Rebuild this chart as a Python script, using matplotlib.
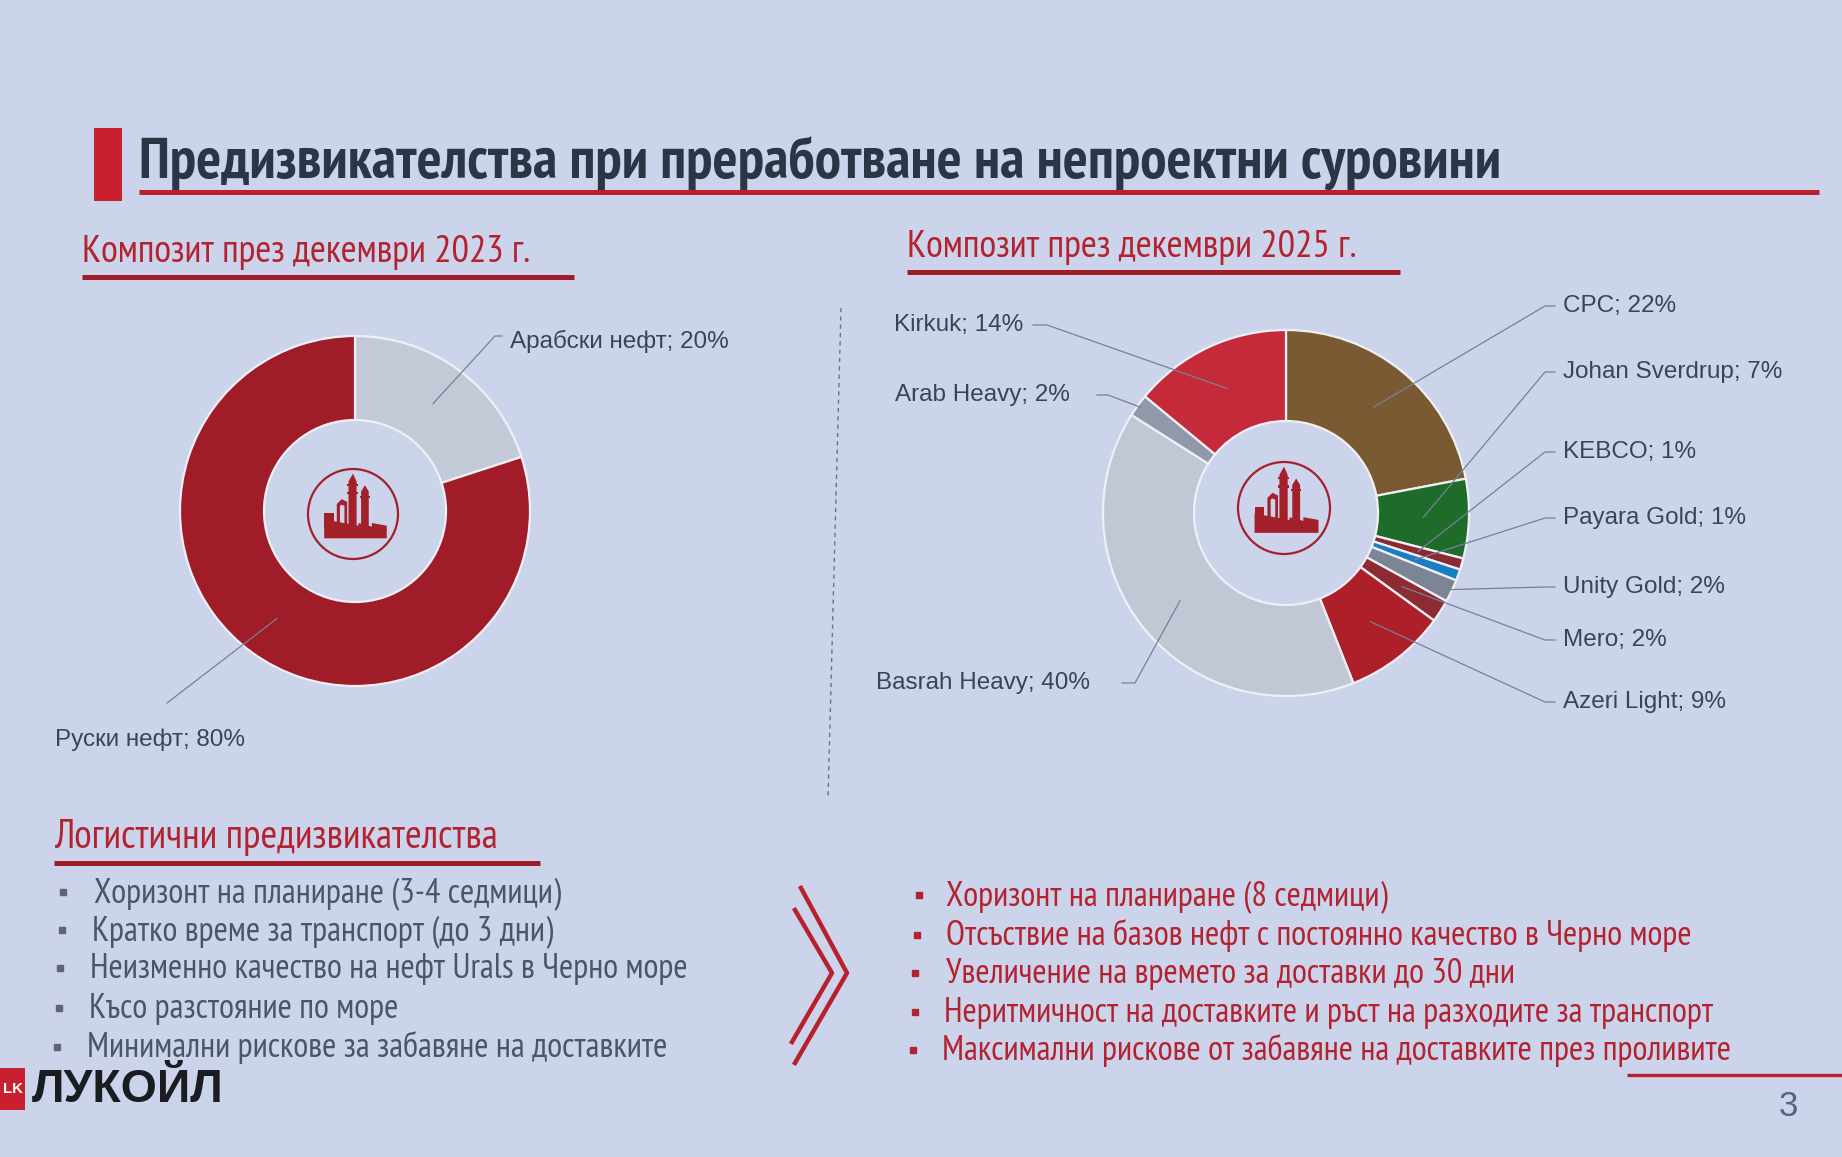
import matplotlib
matplotlib.use("Agg")
import matplotlib.pyplot as plt
from matplotlib import font_manager
from matplotlib.font_manager import FontProperties
from matplotlib.ft2font import FT2Font
from matplotlib.patches import Circle, Polygon, Rectangle
import numpy as np

# ---------------- data ----------------
title = "Предизвикателства при преработване на непроектни суровини"
sub_2023 = "Композит през декември 2023 г."
sub_2025 = "Композит през декември 2025 г."

labels_2023 = ["Арабски нефт", "Руски нефт"]
values_2023 = [20, 80]
colors_2023 = ["#C3C9D6", "#A01C28"]

labels_2025 = ["CPC", "Johan Sverdrup", "KEBCO", "Payara Gold", "Unity Gold",
               "Mero", "Azeri Light", "Basrah Heavy", "Arab Heavy", "Kirkuk"]
values_2025 = [22, 7, 1, 1, 2, 2, 9, 40, 2, 14]
colors_2025 = ["#7A5A33", "#1F6C2A", "#8C2A33", "#1B7EC2", "#7C8596",
               "#8E2A31", "#AE2029", "#C1C7D5", "#8F99AA", "#C42A3A"]

logistics_header = "Логистични предизвикателства"
before_items = ["Хоризонт на планиране (3-4 седмици)",
                "Кратко време за транспорт (до 3 дни)",
                "Неизменно качество на нефт Urals в Черно море",
                "Късо разстояние по море",
                "Минимални рискове за забавяне на доставките"]
after_items = ["Хоризонт на планиране (8 седмици)",
               "Отсъствие на базов нефт с постоянно качество в Черно море",
               "Увеличение на времето за доставки до 30 дни",
               "Неритмичност на доставките и ръст на разходите за транспорт",
               "Максимални рискове от забавяне на доставките през проливите"]
page_number = "3"
brand = "ЛУКОЙЛ"

# ---------------- fonts ----------------
def has_cyr(path):
    try:
        f = FT2Font(path)
        return all(f.get_char_index(ord(c)) != 0 for c in "ПдЖ")
    except Exception:
        return False


def wnum(e):
    if isinstance(e.weight, (int, float)):
        return int(e.weight)
    return font_manager.weight_dict.get(e.weight, 400)


NARROW_FAMS = ["Liberation Sans Narrow", "Arial Narrow", "PT Sans Narrow", "Roboto Condensed",
               "Fira Sans Condensed", "IBM Plex Sans Condensed", "Ubuntu Condensed",
               "Open Sans Condensed", "Archivo Narrow"]


def find_font(bold):
    entries = font_manager.fontManager.ttflist
    target = 700 if bold else 400
    for allow_var in (False, True):
        for fam in NARROW_FAMS + ["DejaVu Sans"]:
            c = [e for e in entries if e.name == fam and e.style == "normal"]
            if fam == "DejaVu Sans":
                c = [e for e in c if "Condensed" in e.fname]
            if not allow_var:
                c = [e for e in c if "[" not in e.fname]
            elif bold:
                continue
            if bold:
                c = [e for e in c if wnum(e) >= 600]
            else:
                c = [e for e in c if 300 <= wnum(e) <= 500]
            c = [e for e in c if has_cyr(e.fname)]
            if c:
                c.sort(key=lambda e: abs(wnum(e) - target))
                return c[0].fname
    return None


nr_path = find_font(False)
nb_path = find_font(True)


def NR(size):
    if nr_path:
        return FontProperties(fname=nr_path, size=size)
    return FontProperties(family="Liberation Sans", size=size)


def NB(size):
    if nb_path:
        return FontProperties(fname=nb_path, size=size)
    return FontProperties(family="Liberation Sans", weight="bold", size=size)


# ---------------- setup ----------------
W, H = 1842, 1157
DPI = 100
names = {f.name for f in font_manager.fontManager.ttflist}
REG = "Liberation Sans" if "Liberation Sans" in names else "DejaVu Sans"

BG = "#CBD4EB"
RED = "#B3222E"
DARKRED = "#A01C2A"
TXT = "#3B4457"
LEAD = "#778095"

fig = plt.figure(figsize=(W / DPI, H / DPI), dpi=DPI, facecolor=BG)
ax = fig.add_axes([0, 0, 1, 1])
ax.set_facecolor(BG)


def Y(y):
    return H - y


def finish_axes():
    ax.set_xlim(0, W)
    ax.set_ylim(0, H)
    ax.set_aspect("auto")
    ax.axis("off")


finish_axes()
fig.canvas.draw()
renderer = fig.canvas.get_renderer()


def width_of(t):
    return t.get_window_extent(renderer).width


def fit(t, width):
    t.set_fontsize(t.get_fontsize() * width / width_of(t))


# ---------------- header ----------------
ax.add_patch(Rectangle((94, Y(201)), 28, 73, color="#C8202F", lw=0))
t = ax.text(139, Y(178), title, fontproperties=NB(35), color="#2C3546",
            va="baseline", ha="left")
fit(t, 1365)
ax.plot([139, 1819], [Y(192), Y(192)], color="#B91F2E", lw=3.6, solid_capstyle="butt")

t = ax.text(82, Y(262), sub_2023, fontproperties=NR(23), color=RED, va="baseline")
fit(t, 449)
ax.plot([82, 574], [Y(277), Y(277)], color=DARKRED, lw=3.6, solid_capstyle="butt")
t = ax.text(907, Y(257), sub_2025, fontproperties=NR(23), color=RED, va="baseline")
fit(t, 450)
ax.plot([907, 1400], [Y(272), Y(272)], color=DARKRED, lw=3.6, solid_capstyle="butt")

ax.plot([841, 828], [Y(308), Y(799)], color="#6A7282", lw=1.0, dashes=(3, 3))


# ---------------- logos ----------------
def refinery_logo(cx, cy, r, col="#A3202B"):
    cyu = Y(cy)
    ax.add_patch(Circle((cx, cyu), r, fill=False, edgecolor=col, lw=1.6))

    def P(pts):
        return [(cx + u * r, cyu + v * r) for u, v in pts]

    shapes = [
        [(-0.64, -0.54), (0.75, -0.54), (0.75, -0.26), (0.42, -0.20), (0.42, -0.28),
         (0.12, -0.20), (0.12, -0.26), (-0.64, -0.12)],
        [(-0.64, -0.30), (-0.43, -0.30), (-0.43, 0.02), (-0.64, 0.02)],
        [(-0.36, -0.30), (-0.36, 0.22), (-0.25, 0.33), (-0.13, 0.27), (-0.13, -0.30),
         (-0.19, -0.30), (-0.19, 0.18), (-0.26, 0.21), (-0.29, 0.18), (-0.29, -0.30)],
        [(-0.10, -0.30), (0.08, -0.30), (0.08, 0.72), (0.00, 0.90), (-0.10, 0.72)],
        [(-0.13, 0.44), (0.11, 0.44), (0.11, 0.50), (-0.13, 0.50)],
        [(-0.13, 0.62), (0.11, 0.62), (0.11, 0.67), (-0.13, 0.67)],
        [(0.18, -0.30), (0.35, -0.30), (0.35, 0.50), (0.265, 0.64), (0.18, 0.50)],
        [(0.15, 0.36), (0.38, 0.36), (0.38, 0.41), (0.15, 0.41)],
    ]
    for s in shapes:
        ax.add_patch(Polygon(P(s), closed=True, color=col, lw=0))


# ---------------- donuts ----------------
def donut(values, colors, cx, cy, r_out, width):
    wedges, _ = ax.pie(values, colors=colors, center=(cx, Y(cy)), radius=r_out,
                       startangle=90, counterclock=False,
                       wedgeprops=dict(width=width, edgecolor="#EEF0F6", linewidth=1.6))
    return wedges


def anchor(w, cx, cy, r):
    a = np.deg2rad((w.theta1 + w.theta2) / 2)
    return cx + r * np.cos(a), Y(cy) + r * np.sin(a)


LFS = 17.5
# left donut
cxL, cyL, RL, WL = 355, 511, 175, 84
wl = donut(values_2023, colors_2023, cxL, cyL, RL, WL)
refinery_logo(cxL - 2, cyL + 3, 45)
rm = RL - WL / 2
sx, sy = anchor(wl[0], cxL, cyL, rm)
ax.plot([sx, 495, 502], [sy, Y(336), Y(336)], color=LEAD, lw=0.9)
ax.text(510, Y(341), f"{labels_2023[0]}; {values_2023[0]}%", family=[REG], fontsize=LFS,
        color=TXT, va="center", ha="left")
sx, sy = anchor(wl[1], cxL, cyL, rm)
ax.plot([sx, 167], [sy, Y(703)], color=LEAD, lw=0.9)
ax.text(55, Y(740), f"{labels_2023[1]}; {values_2023[1]}%", family=[REG], fontsize=LFS,
        color=TXT, va="center", ha="left")

# right donut
cxR, cyR, RR, WR = 1286, 513, 183, 91
wr = donut(values_2025, colors_2025, cxR, cyR, RR, WR)
refinery_logo(cxR - 2, cyR - 5, 46)
rmR = RR - WR / 2
right_label_y = {"CPC": 306, "Johan Sverdrup": 372, "KEBCO": 452, "Payara Gold": 518,
                 "Unity Gold": 587, "Mero": 640, "Azeri Light": 702}
left_label = {"Kirkuk": (1023, 325, 1033, 1047),
              "Arab Heavy": (1070, 395, 1097, 1108),
              "Basrah Heavy": (1090, 683, 1122, 1135)}
outer_anchor = {"Arab Heavy", "Unity Gold"}
for w, lab, val in zip(wr, labels_2025, values_2025):
    r = RR - 3 if lab in outer_anchor else rmR
    sx, sy = anchor(w, cxR, cyR, r)
    txt = f"{lab}; {val}%"
    if lab in right_label_y:
        ly = right_label_y[lab]
        ax.plot([sx, 1545, 1555], [sy, Y(ly), Y(ly)], color=LEAD, lw=0.9)
        ax.text(1563, Y(ly), txt, family=[REG], fontsize=LFS, color=TXT, va="center", ha="left")
    else:
        xr, ly, l0, l1 = left_label[lab]
        ax.plot([l0, l1, sx], [Y(ly), Y(ly), sy], color=LEAD, lw=0.9)
        ax.text(xr, Y(ly), txt, family=[REG], fontsize=LFS, color=TXT, va="center", ha="right")

# ---------------- logistics ----------------
t = ax.text(54, Y(848), logistics_header, fontproperties=NR(23), color=RED, va="baseline")
fit(t, 444)
ax.plot([54, 540], [Y(863), Y(863)], color=DARKRED, lw=3.6, solid_capstyle="butt")

before_x = [94, 92, 90, 89, 87]
before_y = [892, 930, 968, 1008, 1047]
before_bx = [63, 62, 60, 59, 57]
ts = [ax.text(x, Y(y + 10), s, fontproperties=NR(21), color="#4C5568", va="baseline")
      for x, y, s in zip(before_x, before_y, before_items)]
k = 597 / width_of(ts[2])
for tt in ts:
    tt.set_fontsize(21 * k)
ax.plot(before_bx, [Y(y) for y in before_y], ls="none", marker="s", ms=5, color="#5D6577")

after_x = [946, 946, 946, 944, 942]
after_y = [895, 935, 973, 1012, 1050]
after_bx = [919, 917, 915, 915, 913]
ts = [ax.text(x, Y(y + 10), s, fontproperties=NR(21), color=RED, va="baseline")
      for x, y, s in zip(after_x, after_y, after_items)]
k = 789 / width_of(ts[4])
for tt in ts:
    tt.set_fontsize(21 * k)
ax.plot(after_bx, [Y(y) for y in after_y], ls="none", marker="s", ms=5, color=RED)

# chevrons
ax.plot([801, 847, 795], [Y(888), Y(973), Y(1063)], color="#B8202C", lw=3.2)
ax.plot([795, 832, 792], [Y(910), Y(973), Y(1042)], color="#B8202C", lw=3.2)

# ---------------- footer ----------------
ax.plot([1627, 1842], [Y(1075), Y(1075)], color="#B91F2E", lw=2.4, solid_capstyle="butt")
ax.text(1788, Y(1107), page_number, family=[REG], fontsize=25, color="#59627A",
        ha="center", va="center")
ax.add_patch(Rectangle((0, Y(1110)), 25, 42, color="#C8202F", lw=0))
t = ax.text(12.5, Y(1089), "LK", family=[REG], weight="bold", fontsize=12, color="white",
            ha="center", va="center")
fit(t, 20)
t = ax.text(32, Y(1102), brand, family=[REG, "DejaVu Sans"], weight="bold", fontsize=29,
            color="#1B1C22", va="baseline", ha="left")
fit(t, 192)

finish_axes()
fig.savefig("out.png", dpi=DPI, facecolor=BG)
